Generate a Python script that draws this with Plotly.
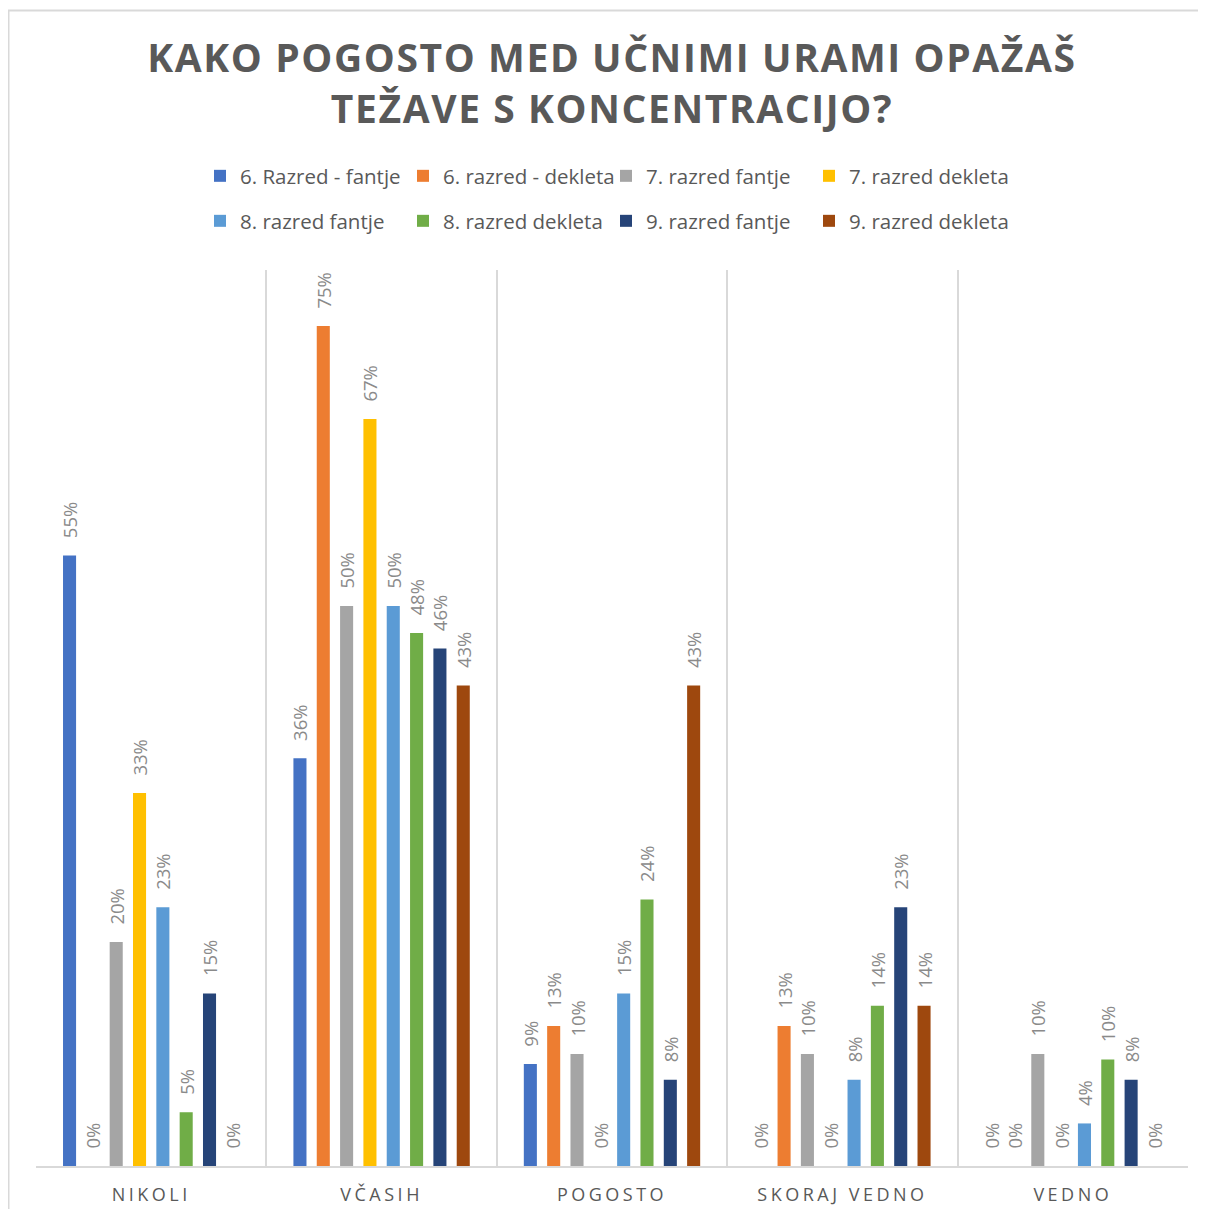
import plotly.graph_objects as go

categories = ["NIKOLI", "VČASIH", "POGOSTO", "SKORAJ VEDNO", "VEDNO"]

series_names = [
    "6. Razred - fantje", "6. razred - dekleta", "7. razred fantje", "7. razred dekleta",
    "8. razred fantje", "8. razred dekleta", "9. razred fantje", "9. razred dekleta",
]

# percentages
r6_fantje = [54.5, 36.4, 9.1, 0, 0]
r6_dekleta = [0, 75.0, 12.5, 12.5, 0]
r7_fantje = [20.0, 50.0, 10.0, 10.0, 10.0]
r7_dekleta = [33.3, 66.7, 0, 0, 0]
r8_fantje = [23.1, 50.0, 15.4, 7.7, 3.8]
r8_dekleta = [4.8, 47.6, 23.8, 14.3, 9.5]
r9_fantje = [15.4, 46.2, 7.7, 23.1, 7.7]
r9_dekleta = [0, 42.9, 42.9, 14.3, 0]

series_values = [r6_fantje, r6_dekleta, r7_fantje, r7_dekleta,
                 r8_fantje, r8_dekleta, r9_fantje, r9_dekleta]

colors = ["#4472C4", "#ED7D31", "#A5A5A5", "#FFC000",
          "#5B9BD5", "#70AD47", "#264478", "#9E480E"]

FONT = "Open Sans"
# page body has an 8px margin; figure sized to fill the 1206x1217 window
W, H = 1190, 1201
ML, MR, MT, MB = 28, 10, 262, 43
PW, PH = W - ML - MR, H - MT - MB

NB = "\u00a0"
fig = go.Figure()
for i, (name, vals, col) in enumerate(zip(series_names, series_values, colors)):
    fig.add_trace(go.Bar(
        x=categories, y=vals, name=name,
        marker=dict(color=col, line=dict(width=0)),
        texttemplate=NB * 3 + "%{y:.0f}%", textposition="outside", textangle=-90,
        constraintext="none",
        textfont=dict(family=FONT, size=18.5, color="#8a8a8a"),
        cliponaxis=False,
        legend="legend" if i < 4 else "legend2",
        hoverinfo="skip",
    ))

legend_common = dict(
    orientation="h", xanchor="center", x=0.5 - 6 / PW, yanchor="middle",
    font=dict(family=FONT, size=20.5, color="#595959"),
    bgcolor="rgba(0,0,0,0)", entrywidth=158, entrywidthmode="pixels",
    itemwidth=30, tracegroupgap=0,
)

fig.update_layout(
    width=W, height=H,
    margin=dict(l=ML, r=MR, t=MT, b=MB, pad=0, autoexpand=False),
    paper_bgcolor="white", plot_bgcolor="white",
    title=dict(
        text="<b>KAKO POGOSTO MED UČNIMI URAMI OPAŽAŠ<br>TEŽAVE S KONCENTRACIJO?</b>",
        x=0.5, xanchor="center", xref="paper", y=1 - 64 / H, yanchor="middle",
        font=dict(family=FONT, size=39, color="#595959"),
    ),
    barmode="group", bargap=0.19, bargroupgap=0.44,
    legend=dict(**legend_common, y=(PH - 168 + MT) / PH),
    legend2=dict(**legend_common, y=(PH - 213 + MT) / PH),
    xaxis=dict(
        range=[-0.5, 4.5], tickson="boundaries", showgrid=True, gridcolor="#d9d9d9",
        gridwidth=1.5, showline=True, linecolor="#d9d9d9", linewidth=2, ticks="",
        ticklabelstandoff=11, automargin=False,
        tickfont=dict(family=FONT, size=18, color="#595959"), zeroline=False,
    ),
    yaxis=dict(range=[0, 80], visible=False, showgrid=False, zeroline=False,
               automargin=False),
    showlegend=True,
)

# outer chart border
fig.add_shape(type="rect", xref="paper", yref="paper",
              x0=(0.5 - ML) / PW, x1=(W + 20 - ML) / PW,
              y0=-(MB + 20) / PH, y1=(PH + MT - 2.5) / PH,
              line=dict(color="#d9d9d9", width=2), layer="below")

spacing_js = """
var gd = document.getElementById('{plot_id}');
gd.querySelectorAll('.gtitle').forEach(function(t){ t.style.letterSpacing = '1.6px'; });
gd.querySelectorAll('.xtick text').forEach(function(t){ t.style.letterSpacing = '3.5px'; });
"""

fig.write_html("out.html", post_script=spacing_js)
